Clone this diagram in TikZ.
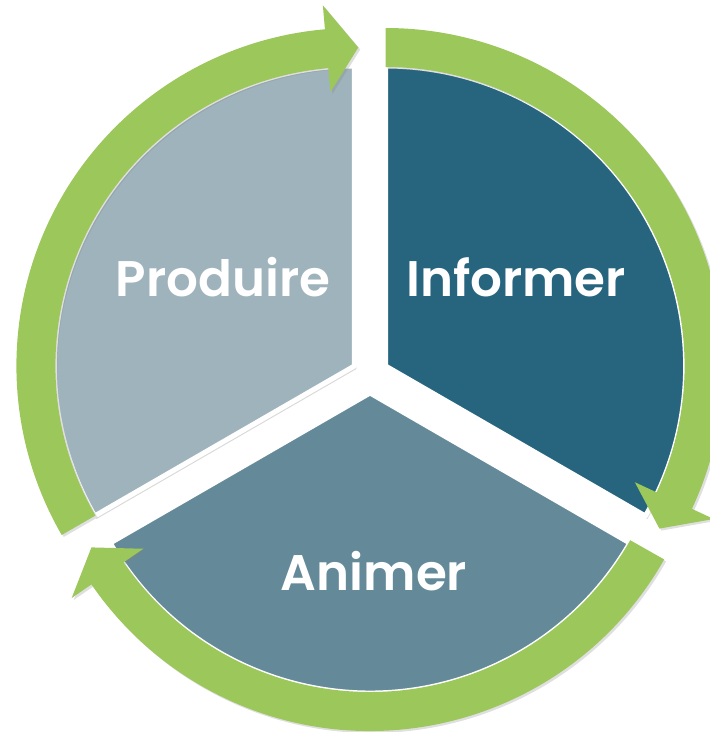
\documentclass[tikz,border=0pt]{standalone}
\usepackage{fontspec}
\setmainfont{Poppins}[BoldFont={Poppins SemiBold}]
\usetikzlibrary{shadows}
\definecolor{produirecol}{HTML}{9FB3BD}
\definecolor{informercol}{HTML}{27657F}
\definecolor{animercol}{HTML}{648A99}
\definecolor{cyclegreen}{HTML}{9CC75A}
\begin{document}
\begin{tikzpicture}[x=1pt, y=1pt,
    sector/.style={draw=white, line width=5pt, line join=round,
        drop shadow={opacity=0.3, shadow xshift=2pt, shadow yshift=-3pt}},
    cyclearrow/.style={fill=cyclegreen,
        drop shadow={opacity=0.25, shadow xshift=2pt, shadow yshift=-2pt}},
    phaselabel/.style={text=white, font=\fontsize{50}{50}\selectfont\bfseries}]
    \useasboundingbox (0,0) rectangle (710,732);

    \coordinate (pc) at (354.4,366);
    \coordinate (ic) at (385.6,366);
    \coordinate (ac) at (370,339);

    % the three parts
    \path[sector, fill=produirecol] (pc) -- ++(90:300) arc[start angle=90, end angle=210, radius=300] -- cycle;
    \path[sector, fill=informercol] (ic) -- ++(-30:300) arc[start angle=-30, end angle=90, radius=300] -- cycle;
    \path[sector, fill=animercol] (ac) -- ++(210:300) arc[start angle=210, end angle=330, radius=300] -- cycle;

    % the arrows round them
    \begin{scope}[shift={(pc)}]
        \path[cyclearrow] (210:338) arc[start angle=210, end angle=95, radius=338] -- (95:362) -- (89.3:318.5) -- (95:275) -- (95:299) arc[start angle=95, end angle=210, radius=299] -- cycle;
    \end{scope}
    \begin{scope}[shift={(ic)}]
        \path[cyclearrow] (90:338) arc[start angle=90, end angle=-25, radius=338] -- (-25:362) -- (-30.7:318.5) -- (-25:275) -- (-25:299) arc[start angle=-25, end angle=90, radius=299] -- cycle;
    \end{scope}
    \begin{scope}[shift={(ac)}]
        \path[cyclearrow] (-29.5:338) arc[start angle=-29.5, end angle=-145.5, radius=338] -- (-145.5:362) -- (-151:318.5) -- (-145.5:275) -- (-145.5:299) arc[start angle=-145.5, end angle=-29.5, radius=299] -- cycle;
    \end{scope}

    \node[phaselabel] (produire) at (223,455) {Produire};
    \node[phaselabel] (informer) at (516,455) {Informer};
    \node[phaselabel] (animer) at (374,161) {Animer};
\end{tikzpicture}
\end{document}
